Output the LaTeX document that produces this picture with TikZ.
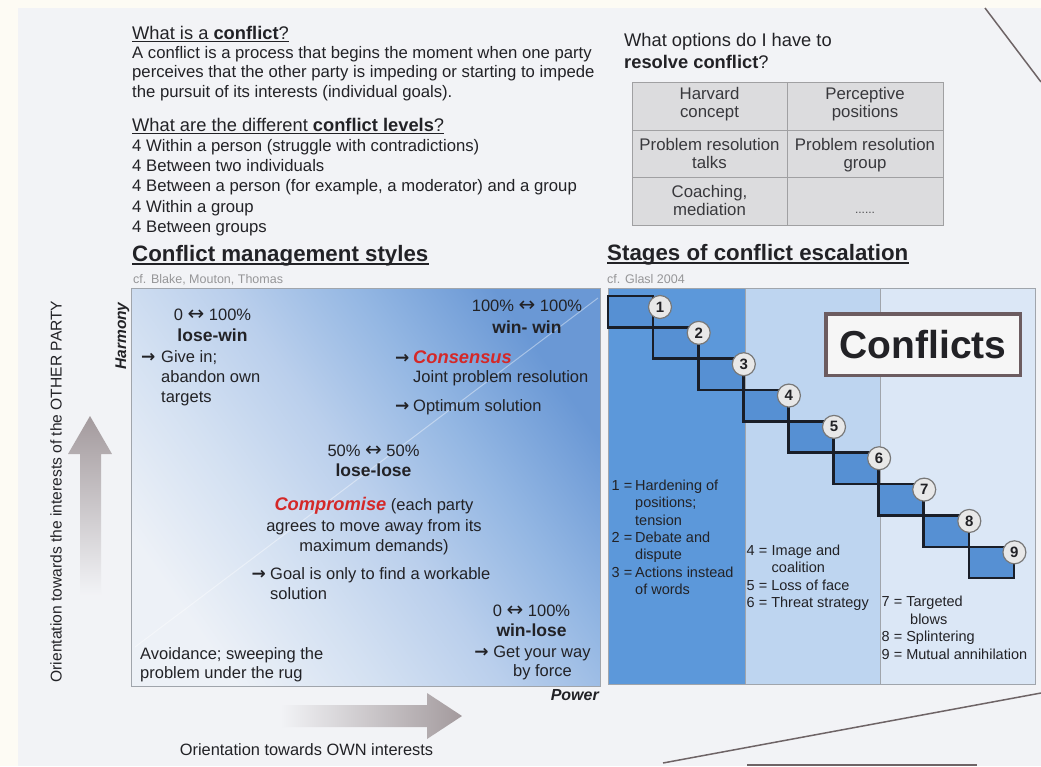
\documentclass[tikz,border=0pt]{standalone}
\usepackage{fontspec}
\setmainfont{Liberation Sans}
\newfontfamily\symfont{DejaVu Sans}
\definecolor{paper}{RGB}{242,243,246}
\definecolor{cream}{RGB}{253,251,244}
\definecolor{ink}{RGB}{34,34,38}
\definecolor{graytxt}{RGB}{150,150,152}
\definecolor{bxA}{RGB}{237,241,247}
\definecolor{bxB}{RGB}{212,225,242}
\definecolor{bxC}{RGB}{186,207,236}
\definecolor{bxD}{RGB}{148,183,227}
\definecolor{bxE}{RGB}{106,152,213}
\definecolor{colA}{RGB}{92,152,218}
\definecolor{colB}{RGB}{190,213,240}
\definecolor{colC}{RGB}{219,231,246}
\definecolor{stepfill}{RGB}{86,144,211}
\definecolor{tabfill}{RGB}{220,220,222}
\definecolor{tabline}{RGB}{160,160,162}
\definecolor{redtxt}{RGB}{212,40,40}
\definecolor{boxedge}{RGB}{108,92,96}
\definecolor{arrowgray}{RGB}{163,154,157}
\definecolor{scanline}{RGB}{110,100,102}
\definecolor{stairline}{RGB}{25,30,40}
\definecolor{numfill}{RGB}{232,232,232}
\definecolor{numedge}{RGB}{120,120,120}
\definecolor{frame}{RGB}{160,165,172}
\pgfdeclareverticalshading{boxshade}{100bp}{color(0bp)=(bxA); color(25bp)=(bxA); color(38bp)=(bxB); color(50bp)=(bxC); color(62bp)=(bxD); color(75bp)=(bxE); color(100bp)=(bxE)}
\newcommand\myfl[1]{\rule{0pt}{#1}}
\newcommand\bxb{\fontsize{17.5}{21}\selectfont\bfseries}
\newcommand\rarr{{\symfont\fontsize{17}{17}\selectfont\bfseries →}}
\newcommand\lrarr{{\symfont\fontsize{20}{20}\selectfont ↔}}
\tikzset{
  every node/.style={inner sep=0pt, text=ink},
  bodytxt/.style={anchor=north west, align=left},
  ctrtxt/.style={anchor=north, align=center},
  headq/.style={anchor=base west, font=\fontsize{18.3}{21}\selectfont},
  secthead/.style={anchor=base west, font=\fontsize{22.3}{26}\selectfont\bfseries},
  cfnote/.style={anchor=base west, font=\fontsize{12.5}{14}\selectfont, text=graytxt},
  ulline/.style={line width=1.3pt, draw=ink},
  celltxt/.style={anchor=north, align=center, font=\fontsize{16.8}{18}\selectfont, text=ink!90},
  cellbox/.style={fill=tabfill, draw=tabline, line width=0.8pt},
  boxline/.style={draw=frame, line width=0.8pt},
  stair/.style={draw=stairline, line width=2.6pt, line join=miter, line cap=rect},
  stepnum/.style={circle, draw=numedge, line width=1.2pt, fill=numfill, minimum size=23pt, font=\fontsize{15}{15}\selectfont\bfseries},
  coltxt/.style={anchor=north west, align=left, font=\fontsize{14.5}{17.4}\selectfont},
  scan/.style={draw=scanline, line width=1.5pt}
}
\begin{document}
\begin{tikzpicture}[x=1pt,y=-1pt]
\useasboundingbox (0,0) rectangle (1041,766);
\fill[cream] (0,0) rectangle (1041,766);
\fill[paper] (18,8) rectangle (1041,766);

% ---------- top left ----------
\node[headq] (q1) at (132,39) {What is a \textbf{conflict}?};
\draw[ulline] ([yshift=-2.5pt]q1.base west) -- ([yshift=-2.5pt]q1.base east);
\node[bodytxt, font=\fontsize{16.7}{19.5}\selectfont] (def) at (132,45) {\myfl{13pt}A conflict is a process that begins the moment when one party\\perceives that the other party is impeding or starting to impede\\the pursuit of its interests (individual goals).};
\node[headq] (q2) at (132,131) {What are the different \textbf{conflict levels}?};
\draw[ulline] ([yshift=-2.5pt]q2.base west) -- ([yshift=-2.5pt]q2.base east);
\node[bodytxt, font=\fontsize{16.7}{20.1}\selectfont] (lv) at (132,138.5) {\myfl{13pt}4 Within a person (struggle with contradictions)\\4 Between two individuals\\4 Between a person (for example, a moderator) and a group\\4 Within a group\\4 Between groups};

% ---------- top right ----------
\node[headq] (q3a) at (624,46.7) {What options do I have to};
\node[headq] (q3b) at (624,68.3) {\textbf{resolve conflict}?};
\draw[cellbox] (632,82) rectangle (787,130);
\draw[cellbox] (787,82) rectangle (943,130);
\draw[cellbox] (632,130) rectangle (787,177);
\draw[cellbox] (787,130) rectangle (943,177);
\draw[cellbox] (632,177) rectangle (787,225);
\draw[cellbox] (787,177) rectangle (943,225);
\node[celltxt] (t11) at (709.5,86) {\myfl{13pt}Harvard\\concept};
\node[celltxt] (t12) at (865,86) {\myfl{13pt}Perceptive\\positions};
\node[celltxt] (t21) at (709.5,137) {\myfl{13pt}Problem resolution\\talks};
\node[celltxt] (t22) at (865,137) {\myfl{13pt}Problem resolution\\group};
\node[celltxt] (t31) at (709.5,184) {\myfl{13pt}Coaching,\\mediation};
\node[anchor=base, font=\fontsize{12}{12}\selectfont, text=ink!80] (t32) at (865,213) {......};

% ---------- left section ----------
\node[secthead] (h1) at (132,261) {Conflict management styles};
\draw[ulline, line width=1.8pt] ([yshift=-3pt]h1.base west) -- ([yshift=-3pt]h1.base east);
\node[cfnote] (cf1) at (133,283) {cf. Blake, Mouton, Thomas};

\shade[shading=boxshade, shading angle=-55] (131,288) rectangle (600,686);
\draw[boxline] (131,288) rectangle (600,686);
\draw[white, opacity=0.4, line width=1pt] (135,647) -- (598,298);

\node[ctrtxt, font=\fontsize{16.5}{21.7}\selectfont] (lw) at (212.5,307) {\myfl{13pt}0 \lrarr{} 100\%\\{\bxb lose-win}};
\node[bodytxt, font=\fontsize{16.5}{20}\selectfont] (give) at (141,349) {\myfl{13pt}\makebox[20pt][l]{\rarr}Give in;\\\hspace*{20pt}abandon own\\\hspace*{20pt}targets};
\node[ctrtxt, font=\fontsize{16.5}{21.6}\selectfont] (ww) at (527,298.7) {\myfl{13pt}100\% \lrarr{} 100\%\\{\bxb win- win}};
\node[bodytxt, font=\fontsize{16.5}{19}\selectfont] (cons) at (395,350.2) {\myfl{13.5pt}\makebox[18pt][l]{\rarr}{\color{redtxt}\fontsize{18.3}{19}\selectfont\bfseries\itshape Consensus}\\\hspace*{18pt}Joint problem resolution};
\node[anchor=base west, font=\fontsize{16.5}{19}\selectfont] (opt) at (395,411) {\makebox[18pt][l]{\rarr}Optimum solution};
\node[ctrtxt, font=\fontsize{16.5}{20}\selectfont] (ll) at (373.5,443.7) {\myfl{13pt}50\% \lrarr{} 50\%\\{\bxb lose-lose}};
\node[ctrtxt, font=\fontsize{16.5}{20.8}\selectfont] (comp) at (374,496.5) {\myfl{13.5pt}{\color{redtxt}\fontsize{18.3}{20.8}\selectfont\bfseries\itshape Compromise} (each party\\agrees to move away from its\\maximum demands)};
\node[bodytxt, font=\fontsize{16.5}{20.3}\selectfont] (goal) at (251.5,566) {\myfl{13pt}\makebox[18.5pt][l]{\rarr}Goal is only to find a workable\\\hspace*{18.5pt}solution};
\node[ctrtxt, font=\fontsize{16.5}{20.7}\selectfont] (wl) at (531.5,603) {\myfl{13pt}0 \lrarr{} 100\%\\{\bxb win-lose}};
\node[ctrtxt, font=\fontsize{16.5}{19.4}\selectfont] (force) at (532.5,644.3) {\myfl{13pt}\rarr{} Get your way\\\hspace*{20pt}by force};
\node[bodytxt, font=\fontsize{16.5}{19.3}\selectfont] (avoid) at (140,646) {\myfl{13pt}Avoidance; sweeping the\\problem under the rug};
\node[anchor=base east, font=\fontsize{16}{16}\selectfont\bfseries\itshape] (power) at (599,700) {Power};
\node[rotate=90, anchor=base, font=\fontsize{15.5}{15.5}\selectfont\bfseries\itshape] (harm) at (126,336) {Harmony};

% axes arrows and labels
\shade[top color=arrowgray, bottom color=paper] (90,416) -- (112,454) -- (101,454) -- (101,595) -- (80,595) -- (80,454) -- (68,454) -- cycle;
\node[rotate=90, anchor=base, font=\fontsize{15.6}{15.6}\selectfont] (ov) at (61.5,491.5) {Orientation towards the interests of the OTHER PARTY};
\shade[left color=paper, right color=arrowgray] (462,716) -- (427,739) -- (427,727) -- (280,727) -- (280,705) -- (427,705) -- (427,693) -- cycle;
\node[anchor=base, font=\fontsize{16.4}{16.4}\selectfont] (oh) at (306.5,755) {Orientation towards OWN interests};

% ---------- right section ----------
\node[secthead] (h2) at (607,260) {Stages of conflict escalation};
\draw[ulline, line width=1.8pt] ([yshift=-3pt]h2.base west) -- ([yshift=-3pt]h2.base east);
\node[cfnote] (cf2) at (607,283.3) {cf. Glasl 2004};

\fill[colA] (608,288) rectangle (745,684);
\fill[colB] (745,288) rectangle (880,684);
\fill[colC] (880,288) rectangle (1035,684);
\draw[boxline] (608,288) rectangle (1035,684);
\draw[boxline] (745,288) -- (745,684);
\draw[boxline] (880,288) -- (880,684);

% staircase
\foreach \k in {1,...,9} {
  \pgfmathsetmacro\xa{608+45.1*(\k-1)}
  \pgfmathsetmacro\xb{608+45.1*\k}
  \pgfmathsetmacro\ya{264.65+31.35*\k}
  \pgfmathsetmacro\yb{264.65+31.35*(\k+1)}
  \fill[stepfill] (\xa,\ya) rectangle (\xb,\yb);
}
\draw[stair] (608,296) -- (608,327.35);
\foreach \k in {1,...,9} {
  \pgfmathsetmacro\xs{608+45.1*max(\k-2,0)}
  \pgfmathsetmacro\xe{608+45.1*\k}
  \pgfmathsetmacro\yk{264.65+31.35*\k}
  \pgfmathsetmacro\yf{264.65+31.35*min(\k+2,10)}
  \draw[stair] (\xs,\yk) -- (\xe,\yk) -- (\xe,\yf);
}
\draw[stair] (968.8,578.15) -- (1013.9,578.15);
\foreach \k in {1,...,9} {
  \pgfmathsetmacro\xe{608+45.1*\k+0.5}
  \pgfmathsetmacro\yk{264.65+31.35*\k+5.5}
  \ifnum\k=1
    \node[stepnum] (s\k) at (660,307) {\k};
  \else
    \node[stepnum] (s\k) at (\xe,\yk) {\k};
  \fi
}

\node[draw=boxedge, line width=3.5pt, fill=white!93!gray, minimum width=194.5pt, minimum height=61.5pt, font=\fontsize{39}{39}\selectfont\bfseries] (conf) at (923,344.5) {Conflicts};

\node[coltxt] (c1) at (611.5,478.5) {\myfl{11.5pt}\makebox[23.5pt][l]{1 =}Hardening of\\\hspace*{23.5pt}positions;\\\hspace*{23.5pt}tension\\\makebox[23.5pt][l]{2 =}Debate and\\\hspace*{23.5pt}dispute\\\makebox[23.5pt][l]{3 =}Actions instead\\\hspace*{23.5pt}of words};
\node[coltxt] (c2) at (746.5,543.5) {\myfl{11.5pt}\makebox[25pt][l]{4 =}Image and\\\hspace*{25pt}coalition\\5 = Loss of face\\6 = Threat strategy};
\node[coltxt] (c3) at (881.5,595.2) {\myfl{11.5pt}7 = Targeted\\\hspace*{28.5pt}blows\\8 = Splintering\\9 = Mutual annihilation};

% scan edges
\draw[scan] (985,8) -- (1041,82);
\draw[scan] (663,763) -- (1041,693);
\draw[scan, line width=2pt] (747,765) -- (977,765);
\end{tikzpicture}
\end{document}
